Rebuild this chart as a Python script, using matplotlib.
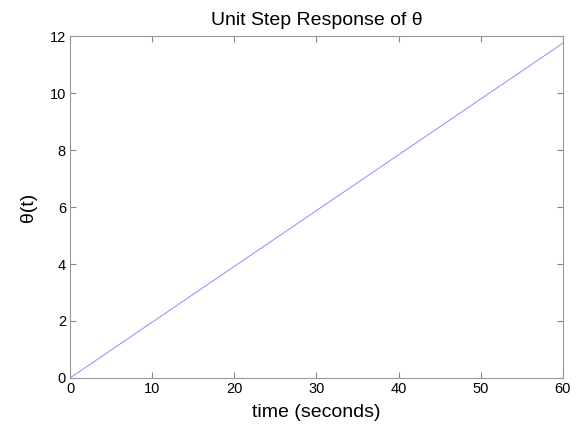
import matplotlib
matplotlib.use("Agg")
import matplotlib.pyplot as plt
import numpy as np

plt.rcParams['font.family'] = ['Liberation Sans', 'DejaVu Sans']

t = [0, 60]
theta = [0, 11.75]
xticks = [0, 10, 20, 30, 40, 50, 60]
yticks = [0, 2, 4, 6, 8, 10, 12]

fig = plt.figure(figsize=(5.79, 4.30), dpi=100)
ax = fig.add_axes([0.121, 0.121, 0.851, 0.795])
ax.plot(t, theta, color='#8c8cff', linewidth=0.7)
ax.set_xlim(0, 60)
ax.set_ylim(0, 12)
ax.set_xticks(xticks)
ax.set_yticks(yticks)
ax.tick_params(direction='in', length=4, color='#888888', labelsize=10.5, pad=3, top=True, right=True)
for s in ax.spines.values():
    s.set_color('#999999')
    s.set_linewidth(0.8)
ax.set_title('Unit Step Response of θ', fontsize=14, pad=8)
ax.set_xlabel('time (seconds)', fontsize=14, labelpad=6)
ax.set_ylabel('θ(t)', fontsize=14, labelpad=9)
fig.savefig('out.png', dpi=100)
